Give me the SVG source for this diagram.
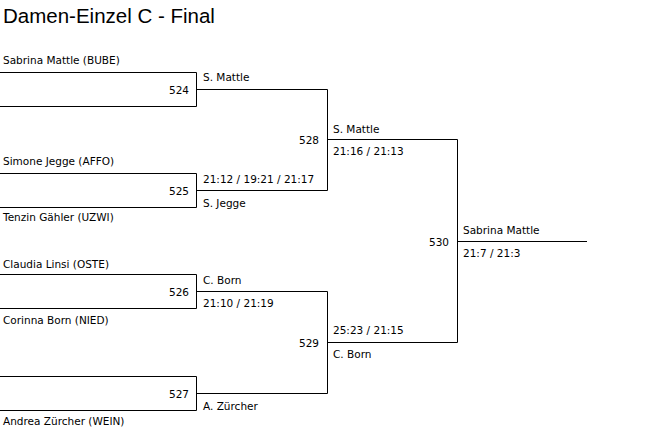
<svg xmlns="http://www.w3.org/2000/svg" width="653" height="437" viewBox="0 0 653 437">
<style>
.t{font-family:"DejaVu Sans",sans-serif;font-size:10.5px;fill:#000}
.r{text-anchor:end}
.ttl{font-family:"Liberation Sans",Arial,sans-serif;font-size:20.5px;fill:#000}
.ln{fill:none;stroke:#000;stroke-width:1}
</style>
<rect width="653" height="437" fill="#fff"/>
<text class="ttl" x="3" y="23">Damen-Einzel C - Final</text>
<g id="connectors">
<path class="ln" d="M0 72.5H196.5V106.5H0"/>
<path class="ln" d="M196.5 89.5H327.5"/>
<path class="ln" d="M0 173.5H196.5V207.5H0"/>
<path class="ln" d="M196.5 190.5H327.5"/>
<path class="ln" d="M0 274.5H196.5V308.5H0"/>
<path class="ln" d="M196.5 291.5H327.5"/>
<path class="ln" d="M0 376.5H196.5V410.5H0"/>
<path class="ln" d="M196.5 393.5H327.5"/>
<path class="ln" d="M327.5 89.5V190.5"/>
<path class="ln" d="M327.5 139.5H457.5"/>
<path class="ln" d="M327.5 291.5V393.5"/>
<path class="ln" d="M327.5 342.5H457.5"/>
<path class="ln" d="M457.5 139.5V342.5"/>
<path class="ln" d="M457.5 241.5H587"/>
</g>
<g id="m524">
<text class="t" x="3" y="64">Sabrina Mattle (BUBE)</text>
<text class="t r" x="189" y="93.5">524</text>
<text class="t" x="203" y="81">S. Mattle</text>
</g>
<g id="m525">
<text class="t" x="3" y="165">Simone Jegge (AFFO)</text>
<text class="t r" x="189" y="195">525</text>
<text class="t" x="203" y="183">21:12 / 19:21 / 21:17</text>
<text class="t" x="203" y="206.5">S. Jegge</text>
<text class="t" x="3" y="221">Tenzin Gähler (UZWI)</text>
</g>
<g id="m526">
<text class="t" x="3" y="267.5">Claudia Linsi (OSTE)</text>
<text class="t r" x="189" y="295.5">526</text>
<text class="t" x="203" y="284">C. Born</text>
<text class="t" x="203" y="307">21:10 / 21:19</text>
<text class="t" x="3" y="324">Corinna Born (NIED)</text>
</g>
<g id="m527">
<text class="t r" x="189" y="397.5">527</text>
<text class="t" x="203" y="410">A. Zürcher</text>
<text class="t" x="3" y="425">Andrea Zürcher (WEIN)</text>
</g>
<g id="m528">
<text class="t r" x="319" y="143.5">528</text>
<text class="t" x="333" y="132.5">S. Mattle</text>
<text class="t" x="333" y="155">21:16 / 21:13</text>
</g>
<g id="m529">
<text class="t r" x="319" y="347">529</text>
<text class="t" x="333" y="333.5">25:23 / 21:15</text>
<text class="t" x="333" y="358">C. Born</text>
</g>
<g id="m530">
<text class="t r" x="449" y="245.5">530</text>
<text class="t" x="463" y="233.5">Sabrina Mattle</text>
<text class="t" x="463" y="256.5">21:7 / 21:3</text>
</g>
</svg>
